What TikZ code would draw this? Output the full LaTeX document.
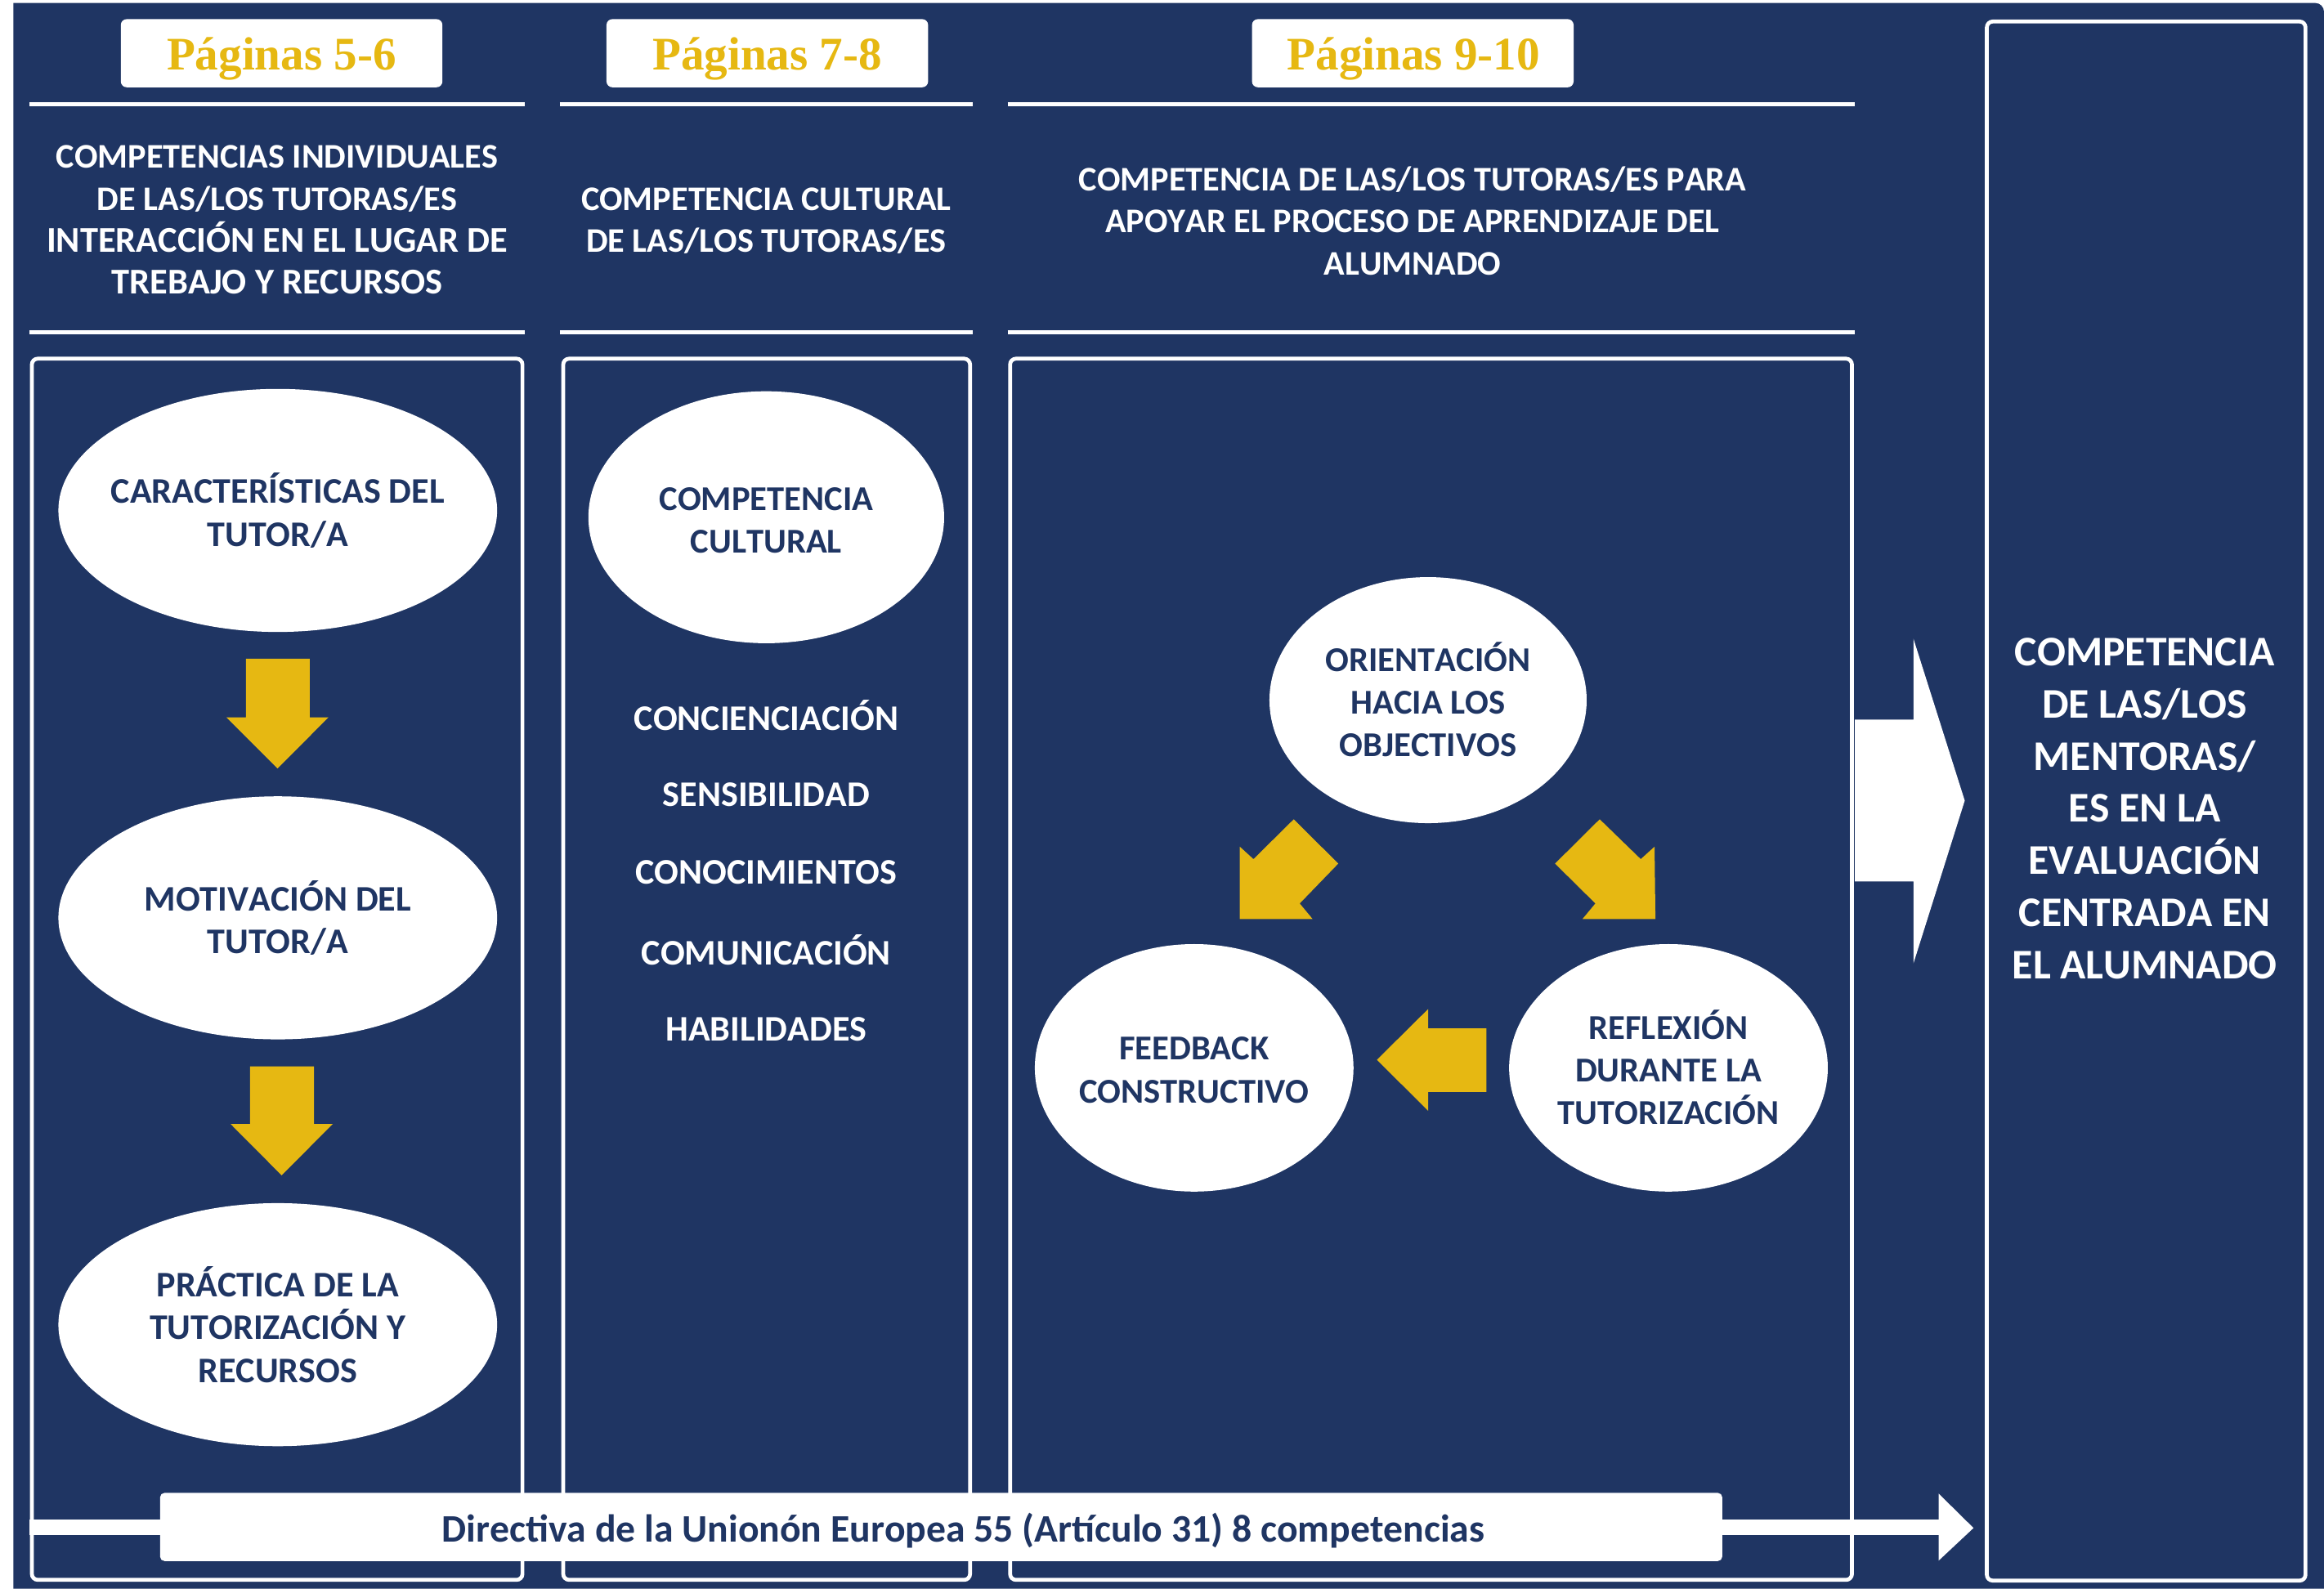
\documentclass[tikz,border=0pt]{standalone}
\usepackage{fontspec}
\setmainfont{Carlito}[Kerning=Off]
\newfontfamily\pagfont{Liberation Serif}
\usetikzlibrary{shapes.geometric}
\definecolor{navy}{RGB}{31,53,99}
\definecolor{gold}{RGB}{230,184,18}
\definecolor{txtnavy}{RGB}{31,53,99}
\newcommand{\bigln}{\fontsize{24.5}{28.3}\selectfont}
\begin{document}
\begin{tikzpicture}[x=1pt,y=-1pt,
  pagebox/.style={fill=white, rounded corners=4pt, draw=none, inner sep=0, minimum width=217pt, minimum height=46pt},
  pagtext/.style={font=\pagfont\bfseries\fontsize{31.5}{36}\selectfont, text=gold, anchor=base, inner sep=0},
  hline/.style={white, line width=2.8pt},
  frame/.style={draw=white, line width=2.6pt, rounded corners=4pt},
  headtext/.style={font=\bfseries\fontsize{23.3}{28.3}\selectfont, text=white, align=center, inner sep=0},
  ell/.style={ellipse, fill=white, inner sep=0},
  elltext/.style={font=\bfseries\fontsize{23.5}{28.8}\selectfont, text=txtnavy, align=center, inner sep=0},
  elltextA/.style={font=\bfseries\fontsize{24.3}{28.8}\selectfont, text=txtnavy, align=center, inner sep=0},
  listtext/.style={font=\bfseries\fontsize{24.3}{28}\selectfont, text=white, inner sep=0},
  righttext/.style={font=\bfseries\fontsize{28.5}{35.2}\selectfont, text=white, align=center, inner sep=0},
  yarrow/.style={fill=gold},
  warrow/.style={fill=white},
  dirbox/.style={fill=white, rounded corners=3pt, inner sep=0, minimum width=1054pt, minimum height=46pt},
  dirtext/.style={font=\bfseries\fontsize{26.3}{29}\selectfont, text=txtnavy, inner sep=0},
]
\useasboundingbox (0,0) rectangle (1568,1072);
\fill[white] (0,0) rectangle (1568,1072);
\fill[navy] (9,2) -- (1562,2) to[out=0,in=90] (1568,8) -- (1568,1072) -- (9,1072) -- cycle;

% page boxes
\node[pagebox] (p56) at (190,35.9) {};
\node[pagtext] (p56t) at (190,47) {Páginas 5-6};
\node[pagebox] (p78) at (517.7,35.9) {};
\node[pagtext] (p78t) at (517.7,47) {Páginas 7-8};
\node[pagebox] (p910) at (953.2,35.9) {};
\node[pagtext] (p910t) at (953.8,47) {Páginas 9-10};

% header lines
\draw[hline] (20,70.4) -- (354,70.4);
\draw[hline] (377.7,70.4) -- (656.2,70.4);
\draw[hline] (679.8,70.4) -- (1251.5,70.4);
\draw[hline] (20,224.3) -- (354,224.3);
\draw[hline] (377.7,224.3) -- (656.2,224.3);
\draw[hline] (679.8,224.3) -- (1251.5,224.3);

% header texts
\node[headtext] (h1) at (187,148.5) {COMPETENCIAS INDIVIDUALES\\DE LAS/LOS TUTORAS/ES\\\bigln INTERACCIÓN EN EL LUGAR DE\\\bigln TREBAJO Y RECURSOS};
\node[headtext] (h2) at (517,149) {COMPETENCIA CULTURAL\\DE LAS/LOS TUTORAS/ES};
\node[headtext] (h3) at (953,149) {COMPETENCIA DE LAS/LOS TUTORAS/ES PARA\\APOYAR EL PROCESO DE APRENDIZAJE DEL\\ALUMNADO};

% frames
\draw[frame] (21.5,242) rectangle (352.5,1066);
\draw[frame] (380,242) rectangle (654.5,1066);
\draw[frame] (681.5,242) rectangle (1249.5,1066);
\draw[frame] (1340.5,14.5) rectangle (1555.5,1066.5);

% column 1
\node[ell, minimum width=296pt, minimum height=164pt] (car) at (187.4,344.4) {};
\node[elltextA] (cart) at (car) {CARACTERÍSTICAS DEL\\TUTOR/A};
\node[ell, minimum width=296pt, minimum height=164pt] (mot) at (187.4,619.3) {};
\node[elltextA] (mott) at (mot) {MOTIVACIÓN DEL\\TUTOR/A};
\node[ell, minimum width=296pt, minimum height=164pt] (pra) at (187.4,893.8) {};
\node[elltextA] (prat) at (pra) {PRÁCTICA DE LA\\TUTORIZACIÓN Y\\RECURSOS};
\fill[yarrow] (166,444.5) -- (209,444.5) -- (209,484) -- (221.6,484) -- (187.3,518.5) -- (152.7,484) -- (166,484) -- cycle;
\fill[yarrow] (168.7,719.5) -- (211.8,719.5) -- (211.8,758.4) -- (224.5,758.4) -- (190,793) -- (155.6,758.4) -- (168.7,758.4) -- cycle;

% column 2
\node[ell, minimum width=240pt, minimum height=170pt] (cc) at (517,349) {};
\node[elltext] (cct) at (517,351) {COMPETENCIA\\CULTURAL};
\node[listtext] (l1) at (517,482.5) {CONCIENCIACIÓN};
\node[listtext] (l2) at (517,536) {SENSIBILIDAD};
\node[listtext] (l3) at (517,588.8) {CONOCIMIENTOS};
\node[listtext] (l4) at (517,641) {COMUNICACIÓN};
\node[listtext] (l5) at (517,694.5) {HABILIDADES};

% column 3
\node[ell, minimum width=214pt, minimum height=166pt] (ori) at (963.5,472.4) {};
\node[elltext] (orit) at (963.5,472) {ORIENTACIÓN\\HACIA LOS\\OBJECTIVOS};
\node[ell, minimum width=215pt, minimum height=167pt] (fee) at (805.7,720.5) {};
\node[elltext] (feet) at (805.7,722) {FEEDBACK\\CONSTRUCTIVO};
\node[ell, minimum width=215pt, minimum height=167pt] (ref) at (1125.7,720.5) {};
\node[elltext] (reft) at (1125.7,720) {REFLEXIÓN\\DURANTE LA\\TUTORIZACIÓN};
\fill[yarrow] (836.5,620.1) -- (836.5,571.3) -- (845.7,579.7) -- (872.9,552.8) -- (902.9,582.7) -- (876.9,609.6) -- (885.6,620.1) -- cycle;
\fill[yarrow] (1116.9,620.1) -- (1067.7,620.1) -- (1076.4,609.6) -- (1049.2,582.7) -- (1079.3,552.8) -- (1107,579.7) -- (1116.3,571.3) -- cycle;
\fill[yarrow] (929,715.1) -- (963.6,680.8) -- (963.6,693.9) -- (1002.9,693.9) -- (1002.9,736.7) -- (963.6,736.7) -- (963.6,749.5) -- cycle;

% big white arrow
\fill[warrow] (1251.5,485.6) -- (1291,485.6) -- (1291,431) -- (1325.6,540.2) -- (1291,650) -- (1291,594.7) -- (1251.5,594.7) -- cycle;

% right column text
\node[righttext] (mentor) at (1447,545.5) {COMPETENCIA\\DE LAS/LOS\\MENTORAS/\\ES EN LA\\EVALUACIÓN\\CENTRADA EN\\EL ALUMNADO};

% bottom arrow
\fill[warrow] (20,1025) rectangle (1309,1036);
\fill[warrow] (1308,1007.8) -- (1331.5,1031) -- (1308,1053) -- cycle;
\node[dirbox] (dir) at (635,1030.3) {};
\node[dirtext] (dirt) at (650,1032.5) {Directiva de la Unionón Europea 55 (Artículo 31) 8 competencias};
\end{tikzpicture}
\end{document}
